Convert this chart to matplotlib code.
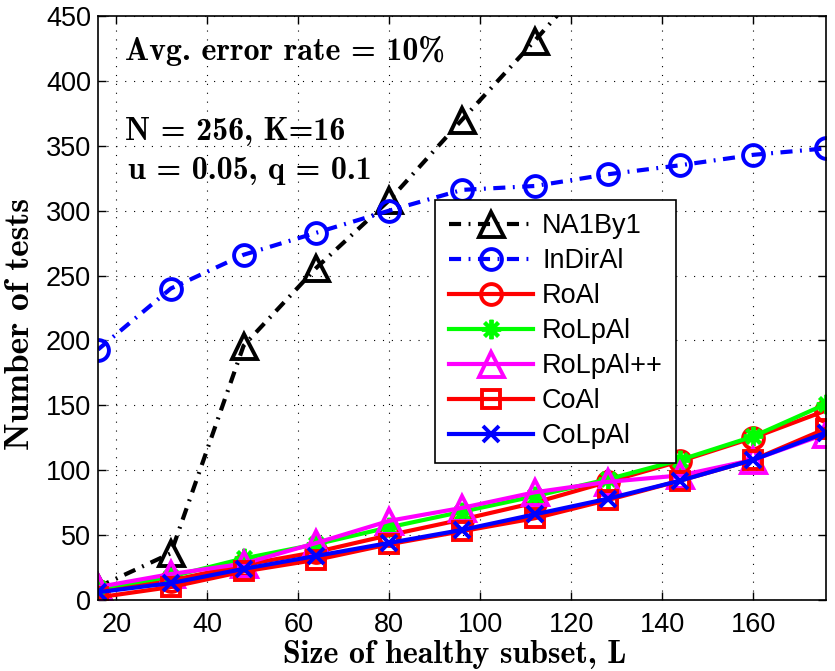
import matplotlib
matplotlib.use("Agg")
import matplotlib.pyplot as plt

plt.rcParams['font.family'] = ['Liberation Sans', 'DejaVu Sans']
plt.rcParams['axes.unicode_minus'] = False

L = [16, 32, 48, 64, 80, 96, 112, 128, 144, 160, 176]
na1by1 = [10, 36, 196, 256, 308, 370, 431, 494, 557, 620, 683]
indiral = [193, 240, 266, 283, 300, 316, 319, 328, 335, 343, 348]
roal = [7, 15, 27, 37, 50, 62, 75, 91, 107, 125, 146]
rolpal = [9, 18, 32, 43, 56, 68, 80, 93, 108, 126, 151]
rolpalpp = [10, 20, 28, 44, 61, 71, 83, 91, 96, 108, 128]
coal = [2, 10, 22, 31, 43, 53, 63, 77, 92, 108, 132]
colpal = [6, 13, 24, 34, 44, 54, 66, 78, 92, 108, 129]

dashdot = (0, (2.9, 1.8, 0.45, 1.8))
series = [
    ("NA1By1", na1by1, 'k', dashdot, '^', 18),
    ("InDirAl", indiral, 'b', dashdot, 'o', 15),
    ("RoAl", roal, 'r', '-', 'o', 15),
    ("RoLpAl", rolpal, '#00ff00', '-', (8, 2, 0), 14),
    ("RoLpAl++", rolpalpp, '#ff00ff', '-', '^', 18),
    ("CoAl", coal, 'r', '-', 's', 13),
    ("CoLpAl", colpal, 'b', '-', 'x', 12),
]

serif = ['cmb10', 'DejaVu Serif']

fig = plt.figure(figsize=(8.35, 6.71), dpi=100)
ax = fig.add_axes([0.1174, 0.1058, 0.8718, 0.8704])

for name, vals, c, ls, m, ms in series:
    ax.plot(L, vals, color=c, linestyle=ls, marker=m, markersize=ms,
            markerfacecolor='none', markeredgecolor=c, markeredgewidth=2.8,
            linewidth=3.0, label=name, clip_on=True)

ax.set_xlim(16, 176)
ax.set_ylim(0, 450)
ax.set_xticks([20, 40, 60, 80, 100, 120, 140, 160])
ax.set_yticks(range(0, 451, 50))
ax.tick_params(labelsize=19.5, direction='in', length=6, width=1, top=True, right=True)
ax.tick_params(axis='x', pad=8.5)
ax.tick_params(axis='y', pad=5)
ax.grid(True, linestyle=(0, (1, 7)), color='k', linewidth=0.8)
for s in ax.spines.values():
    s.set_linewidth(1.2)

ax.set_xlabel('Size of healthy subset, L', fontsize=23, family=serif)
ax.xaxis.set_label_coords(0.49, -0.068)
ax.set_ylabel('Number of tests', fontsize=25.5, family=serif)
ax.yaxis.set_label_coords(-0.085, 0.473)

ax.text(0.0371, 0.9247, 'Avg. error rate = 10%', transform=ax.transAxes,
        fontsize=23, va='baseline', ha='left', family=serif)
ax.text(0.0371, 0.7877, 'N = 256, K=16', transform=ax.transAxes,
        fontsize=23, va='baseline', ha='left', family=serif)
ax.text(0.0412, 0.7209, 'u = 0.05, q = 0.1', transform=ax.transAxes,
        fontsize=23, va='baseline', ha='left', family=serif)

leg = ax.legend(loc='upper left', bbox_to_anchor=(0.463, 0.685), fontsize=19.5,
                handlelength=3.1, frameon=True, fancybox=False, edgecolor='k',
                framealpha=1, borderpad=0.5, labelspacing=0.33, handletextpad=0.35,
                borderaxespad=0)
leg.get_frame().set_linewidth(1.2)

fig.savefig('out.png', dpi=100)
